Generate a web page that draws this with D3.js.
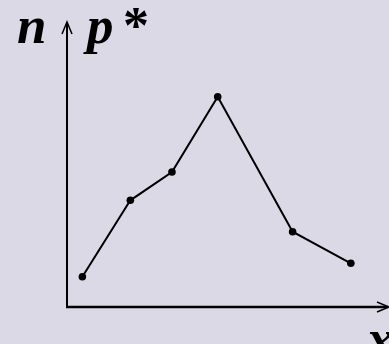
<!DOCTYPE html>
<html>
<head>
<meta charset="utf-8">
<script src="https://cdn.jsdelivr.net/npm/d3@7"></script>
<style>
  html, body { margin: 0; padding: 0; background: #dcd9e7; }
  svg { display: block; }
</style>
</head>
<body>
<div id="chart"></div>
<script>
// data
var xValues = [0.48, 1.98, 3.28, 4.71, 7.05, 8.87]
var yValues = [1.08, 3.81, 4.82, 7.51, 2.69, 1.56]
var yLabelLeft = 'n'
var yLabelRight = ['p', '*']
var xLabel = 'x'

var w = 389,
    h = 344

var svg = d3.select('#chart')
    .append('svg')
    .attr('width', w)
    .attr('height', h)

svg.append('rect')
    .attr('width', w)
    .attr('height', h)
    .attr('fill', '#dcd9e7')

var xscale = d3.scaleLinear().domain([0, 10]).range([67, 387])
var yscale = d3.scaleLinear().domain([0, 10]).range([307, 27])

var ox = xscale(0), oy = yscale(0)

// axes
svg.append('line')
    .attr('x1', ox).attr('y1', oy + 1)
    .attr('x2', ox).attr('y2', 23)
    .attr('stroke', '#000').attr('stroke-width', 2)

svg.append('line')
    .attr('x1', ox - 1).attr('y1', oy)
    .attr('x2', 388).attr('y2', oy)
    .attr('stroke', '#000').attr('stroke-width', 2.5)

// arrow heads
svg.append('path')
    .attr('d', `M${ox - 5},${34} L${ox},${22} L${ox + 5},${34}`)
    .attr('fill', 'none').attr('stroke', '#000').attr('stroke-width', 1.5)

svg.append('path')
    .attr('d', `M${377},${oy - 5} L${389},${oy} L${377},${oy + 5}`)
    .attr('fill', 'none').attr('stroke', '#000').attr('stroke-width', 1.5)

// line and points
var pts = xValues.map((x, i) => [x, yValues[i]])

svg.append('path')
    .datum(pts)
    .attr('d', d3.line().x(d => xscale(d[0])).y(d => yscale(d[1])))
    .attr('fill', 'none')
    .attr('stroke', '#000')
    .attr('stroke-width', 2)

svg.selectAll('circle')
    .data(pts)
    .enter()
    .append('circle')
    .attr('cx', d => xscale(d[0]))
    .attr('cy', d => yscale(d[1]))
    .attr('r', 3.8)
    .attr('fill', '#000')

// labels
var font = '"Liberation Serif", "Times New Roman", serif'

function label(x, y) {
    return svg.append('text')
        .attr('x', x)
        .attr('y', y)
        .style('font-family', font)
        .style('font-style', 'italic')
        .style('font-weight', 'bold')
        .style('font-size', '53px')
}

label(17, 43).text(yLabelLeft)

var pl = label(87, 43)
pl.append('tspan').text(yLabelRight[0])
pl.append('tspan').text(yLabelRight[1])
    .attr('x', 123)
    .attr('y', 43)
    .style('font-style', 'normal')
    .style('font-size', '52px')

label(367, 356).text(xLabel)
</script>
</body>
</html>
